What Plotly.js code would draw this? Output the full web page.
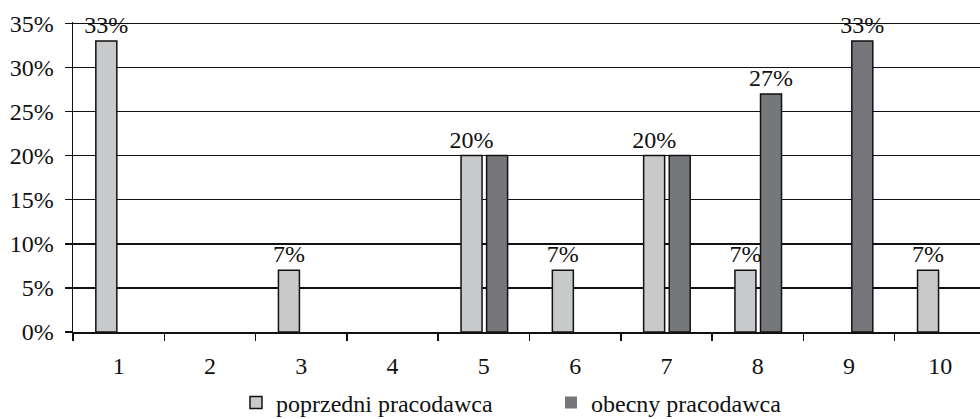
<!DOCTYPE html>
<html>
<head>
<meta charset="utf-8">
<script src="https://cdn.plot.ly/plotly-3.0.1.min.js"></script>
<style>html,body{margin:0;padding:0;background:#fff;}#chart{width:980px;height:419px;}</style>
</head>
<body>
<div id="chart"></div>
<script>
const categories = ['1','2','3','4','5','6','7','8','9','10'];
const previousValues = [33, 0, 7, 0, 20, 7, 20, 7, 0, 7];
const currentValues  = [0, 0, 0, 0, 20, 0, 20, 27, 33, 0];
const previousLabels = ['33%', '', '7%', '', '20%', '7%', '20%', '7%', '', '7%'];
const currentLabels  = ['', '', '', '', '', '', '', '27%', '33%', ''];
const seriesNames = ['poprzedni pracodawca', 'obecny pracodawca'];

const FONT = 'Liberation Serif';
const FS = 24;

function outlineWidths(vals) { return vals.map(v => v > 0 ? 1.5 : 0); }

const traces = [
  {
    type: 'bar', name: seriesNames[0], x: categories, y: previousValues,
    text: previousLabels, textposition: 'outside', cliponaxis: false,
    constraintext: 'none',
    textfont: {family: FONT, size: FS, color: '#111'},
    width: 0.23, offset: -0.25,
    marker: {color: '#c8c9cb', line: {color: '#111', width: outlineWidths(previousValues)}},
    hoverinfo: 'skip'
  },
  {
    type: 'bar', name: seriesNames[1], x: categories, y: currentValues,
    text: currentLabels, textposition: 'outside', cliponaxis: false,
    constraintext: 'none',
    textfont: {family: FONT, size: FS, color: '#111'},
    width: 0.23, offset: 0.03,
    marker: {color: '#76777a', line: {color: '#111', width: outlineWidths(currentValues)}},
    hoverinfo: 'skip'
  }
];

const layout = {
  width: 980, height: 419,
  margin: {l: 73, r: 0, t: 22, b: 87, autoexpand: false},
  paper_bgcolor: '#fff', plot_bgcolor: '#fff',
  font: {family: FONT, size: FS, color: '#111'},
  barmode: 'overlay',
  xaxis: {
    type: 'category', range: [-0.5, 9.434], automargin: false,
    showline: true, linecolor: '#111', linewidth: 1.5,
    ticks: 'outside', tickson: 'boundaries', ticklen: 7, tickwidth: 1.5, tickcolor: '#111',
    showgrid: false, zeroline: false,
    ticklabelstandoff: 12,
    tickfont: {family: FONT, size: FS, color: '#111'}
  },
  yaxis: {
    range: [0, 35.15], tick0: 0, dtick: 5, ticksuffix: '%', automargin: false,
    showline: true, linecolor: '#111', linewidth: 1.5,
    ticks: 'outside', ticklen: 7, tickwidth: 1.5, tickcolor: '#111',
    showgrid: true, gridcolor: '#111', gridwidth: 1.5,
    zeroline: false,
    ticklabelstandoff: 6,
    tickfont: {family: FONT, size: FS, color: '#111'}
  },
  showlegend: true,
  legend: {
    orientation: 'h', x: 0.1797, xanchor: 'left', y: -0.2286, yanchor: 'middle',
    font: {family: FONT, size: FS, color: '#111'},
    itemwidth: 30, entrywidth: 270, traceorder: 'normal', bgcolor: 'rgba(0,0,0,0)'
  }
};

Plotly.newPlot('chart', traces, layout, {staticPlot: true, displayModeBar: false});
</script>
</body>
</html>
